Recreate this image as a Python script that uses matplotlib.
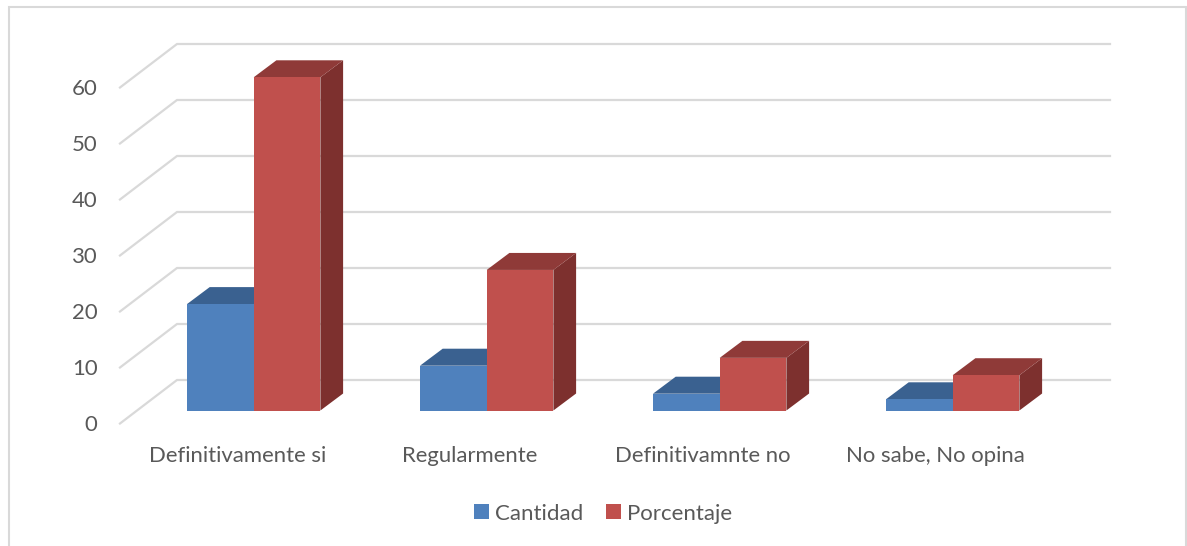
import matplotlib
matplotlib.use("Agg")
import matplotlib.pyplot as plt
from matplotlib.patches import Polygon, Patch

categories = ["Definitivamente si", "Regularmente", "Definitivamnte no", "No sabe, No opina"]
cantidad = [19, 8, 3, 2]
porcentaje = [59.5, 25.1, 9.4, 6.3]
yticks = [0, 10, 20, 30, 40, 50, 60]
series_names = ["Cantidad", "Porcentaje"]

W, H = 1187, 546
TXT = "#595959"
GRID = "#D9D9D9"
BLUE = ("#4F81BD", "#3A6190", "#2F4F75")
RED = ("#C0504D", "#8F3A38", "#7D302E")

plt.rcParams["font.family"] = ["Lato", "DejaVu Sans"]
fig = plt.figure(figsize=(W / 100, H / 100), dpi=100)
ax = fig.add_axes([0, 0, 1, 1])
ax.set_xlim(0, W)
ax.set_ylim(H, 0)
ax.axis("off")

# scales (value -> pixel position)
Y0, PX = 410.5, 5.6
X0, STEP, BW = 187, 233, 66.7
LABEL_X0, LABEL_STEP = 237.5, 232.5
DX, DY = 22.7, -17
WALL_X, WALL_Y0, FRONT_X, FRONT_DY = 177, 380, 120, 43.5
vy = lambda v: Y0 - v * PX
wall = lambda v: WALL_Y0 - v * PX

# chart frame: top, left, right, no bottom edge
ax.plot([9, 9, 1186, 1186], [H, 7, 7, H], color=GRID, lw=1.5, zorder=1, solid_joinstyle="miter")

for t in yticks:
    ax.plot([FRONT_X, WALL_X, 1110], [wall(t) + FRONT_DY, wall(t), wall(t)],
            color=GRID, lw=1.6, zorder=1, solid_joinstyle="miter")
    ax.text(97.5, wall(t) + 45, str(t), ha="right", va="center", color=TXT, fontsize=15.9)

def bar3d(x, v, cols, z):
    top = vy(v)
    r = x + BW
    ax.add_patch(Polygon([(r, top), (r + DX, top + DY), (r + DX, Y0 + DY), (r, Y0)],
                         fc=cols[2], ec="none", zorder=z))
    ax.add_patch(Polygon([(x, top), (x + DX, top + DY), (r + DX, top + DY), (r, top)],
                         fc=cols[1], ec="none", zorder=z))
    ax.add_patch(Polygon([(x, top), (r, top), (r, Y0), (x, Y0)],
                         fc=cols[0], ec="none", zorder=z + 0.1))

for i, (c, p) in enumerate(zip(cantidad, porcentaje)):
    x = X0 + STEP * i
    bar3d(x, c, BLUE, 2 + i)
    bar3d(x + BW, p, RED, 2.5 + i)
    ax.text(LABEL_X0 + LABEL_STEP * i, 456, categories[i], ha="center", va="center",
            color=TXT, fontsize=15.9)

handles = [Patch(fc=BLUE[0], label=series_names[0]), Patch(fc=RED[0], label=series_names[1])]
ax.legend(handles=handles, loc="center", bbox_to_anchor=(603, 513.5), bbox_transform=ax.transData,
          ncol=2, frameon=False, fontsize=16, labelcolor=TXT, handlelength=0.66, handleheight=0.66,
          handletextpad=0.27, columnspacing=1.05, borderpad=0, borderaxespad=0)

fig.savefig("out.png", dpi=100)
